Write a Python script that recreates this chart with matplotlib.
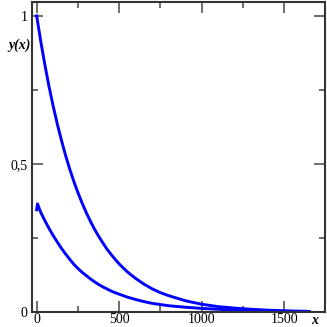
import matplotlib
matplotlib.use("Agg")
import matplotlib.pyplot as plt
from matplotlib.ticker import MultipleLocator, FuncFormatter

# values
x_upper = [0, 25, 50, 75, 100, 125, 150, 175, 200, 225, 250, 275, 300, 325,
           350, 375, 400, 425, 450, 475, 500, 550, 600, 650, 700, 750, 800,
           900, 1000, 1100, 1200, 1300, 1400, 1500, 1650]
y_upper = [1.0, 0.913, 0.834, 0.761, 0.695, 0.635, 0.58, 0.529, 0.483, 0.441,
           0.403, 0.368, 0.336, 0.307, 0.28, 0.256, 0.234, 0.213, 0.195, 0.178,
           0.162, 0.135, 0.113, 0.094, 0.078, 0.065, 0.055, 0.038, 0.026,
           0.018, 0.013, 0.009, 0.006, 0.004, 0.002]

x_lower = [0, 5, 25, 50, 75, 100, 125, 150, 175, 200, 225, 250, 275, 300, 325,
           350, 375, 400, 425, 450, 475, 500, 550, 600, 650, 700, 750, 800,
           900, 1000, 1100, 1200, 1300, 1400, 1500, 1650]
y_lower = [0.345, 0.365, 0.336, 0.308, 0.282, 0.258, 0.236, 0.215, 0.196, 0.178,
           0.161, 0.147, 0.134, 0.123, 0.112, 0.102, 0.093, 0.085, 0.078, 0.071,
           0.065, 0.06, 0.05, 0.042, 0.035, 0.029, 0.025, 0.021, 0.016, 0.012,
           0.009, 0.006, 0.004, 0.003, 0.002, 0.001]

x_ticks = [0, 500, 1000, 1500]
y_ticks = [0, 0.5, 1]

plt.rcParams['font.family'] = ['Liberation Serif', 'DejaVu Serif']

fig = plt.figure(figsize=(3.27, 3.27), dpi=100)
ax = fig.add_axes([0.097, 0.046, 0.897, 0.949])

ax.plot(x_upper, y_upper, color='#0000ff', lw=2.1, solid_joinstyle='round')
ax.plot(x_lower, y_lower, color='#0000ff', lw=2.1, solid_joinstyle='round')

ax.set_xlim(-30, 1747)
ax.set_ylim(0, 1.048)

ax.set_xticks(x_ticks)
ax.set_yticks(y_ticks)
ax.xaxis.set_minor_locator(MultipleLocator(250))
ax.yaxis.set_minor_locator(MultipleLocator(0.25))
ax.yaxis.set_major_formatter(FuncFormatter(lambda v, p: ('%g' % v).replace('.', ',')))

ax.tick_params(which='both', direction='in', top=True, right=True,
               labelsize=10, color='#555555', width=1.2, pad=3)
ax.tick_params(axis='x', which='major', pad=1)
ax.tick_params(which='major', length=8)
ax.tick_params(which='minor', length=4)

for s in ax.spines.values():
    s.set_linewidth(1.5)
    s.set_color('#333333')

fig.text(20 / 327, 1 - 45 / 327, 'y(x)', fontsize=10, fontweight='bold',
         fontstyle='italic', ha='center', va='center')
fig.text(315 / 327, 1 - 321 / 327, 'x', fontsize=10, fontweight='bold',
         fontstyle='italic', ha='center', va='center')

fig.savefig('out.png', dpi=100)
